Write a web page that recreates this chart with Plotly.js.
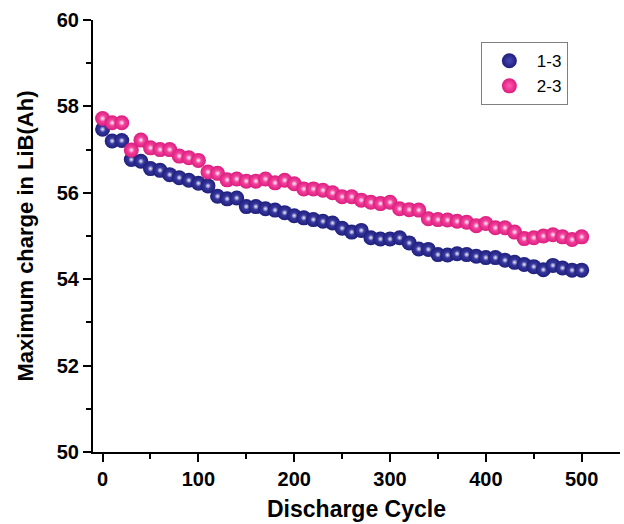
<!DOCTYPE html>
<html>
<head>
<meta charset="utf-8">
<script src="https://cdn.plot.ly/plotly-3.0.1.min.js"></script>
<style>html,body{margin:0;padding:0;background:#fff;}#chart{width:624px;height:524px;}</style>
</head>
<body>
<div id="chart"></div>
<script>
const cycles = [0,10,20,30,40,50,60,70,80,90,100,110,120,130,140,150,160,170,180,190,200,210,220,230,240,250,260,270,280,290,300,310,320,330,340,350,360,370,380,390,400,410,420,430,440,450,460,470,480,490,500];
const series13 = [57.47,57.20,57.21,56.77,56.73,56.56,56.52,56.42,56.35,56.29,56.22,56.16,55.92,55.86,55.88,55.68,55.68,55.63,55.60,55.54,55.47,55.42,55.38,55.34,55.30,55.18,55.09,55.13,54.96,54.93,54.93,54.96,54.84,54.70,54.69,54.57,54.56,54.59,54.57,54.53,54.50,54.50,54.44,54.39,54.34,54.29,54.22,54.32,54.26,54.21,54.21];
const series23 = [57.72,57.62,57.62,56.99,57.22,57.04,57.00,57.00,56.85,56.81,56.75,56.48,56.45,56.30,56.32,56.27,56.27,56.32,56.23,56.29,56.21,56.09,56.09,56.06,56.00,55.91,55.91,55.83,55.78,55.75,55.78,55.63,55.61,55.60,55.40,55.38,55.37,55.34,55.32,55.24,55.29,55.19,55.19,55.09,54.94,54.96,55.00,55.03,54.98,54.92,54.98];
const names = ['1-3','2-3'];
const xTicks = [0,100,200,300,400,500];
const yTicks = [50,52,54,56,58,60];

function sphere(y, name, edge, center) {
  return {
    x: cycles, y: y, name: name, type: 'scatter', mode: 'markers',
    marker: {size: 15, color: edge, line: {width: 0}, gradient: {type: 'radial', color: center}}
  };
}
function highlight(y) {
  return {
    x: cycles, y: y, type: 'scatter', mode: 'markers', showlegend: false, hoverinfo: 'skip',
    marker: {size: 6, color: 'rgba(255,255,255,0)', line: {width: 0}, gradient: {type: 'radial', color: 'rgba(255,255,255,0.9)'}}
  };
}
const data = [
  sphere(series13, names[0], '#1e1e7c', '#4848b4'),
  highlight(series13),
  sphere(series23, names[1], '#dc1c7e', '#ff5cb0'),
  highlight(series23)
];
const font = {family: 'Liberation Sans, Arial, sans-serif', color: '#000'};
const layout = {
  width: 624, height: 524,
  margin: {l: 93, r: 4, t: 20, b: 72},
  paper_bgcolor: '#fff', plot_bgcolor: '#fff',
  font: font,
  showlegend: true,
  legend: {
    x: 0.736, y: 0.9486, xanchor: 'left', yanchor: 'top',
    bordercolor: '#7f7f7f', borderwidth: 1, bgcolor: '#fff',
    font: {family: font.family, size: 17, color: '#000'},
    itemwidth: 45, tracegroupgap: 0
  },
  xaxis: {
    range: [-10, 540], showgrid: false, zeroline: false,
    showline: true, linecolor: '#000', linewidth: 2, mirror: false,
    tickmode: 'array', tickvals: xTicks, ticks: 'outside', ticklen: 8, tickwidth: 2, tickcolor: '#000',
    minor: {dtick: 50, ticks: 'outside', ticklen: 5, tickwidth: 2, tickcolor: '#000', showgrid: false},
    tickfont: {family: font.family, size: 20, color: '#000', weight: 'bold'},
    title: {text: 'Discharge Cycle', standoff: 12, font: {family: font.family, size: 23, color: '#000', weight: 'bold'}}
  },
  yaxis: {
    range: [50, 60], showgrid: false, zeroline: false,
    showline: true, linecolor: '#000', linewidth: 2, mirror: false,
    tickmode: 'array', tickvals: yTicks, ticks: 'outside', ticklen: 8, tickwidth: 2, tickcolor: '#000',
    minor: {dtick: 1, ticks: 'outside', ticklen: 5, tickwidth: 2, tickcolor: '#000', showgrid: false},
    tickfont: {family: font.family, size: 20, color: '#000', weight: 'bold'},
    title: {text: 'Maximum charge in LiB(Ah)', standoff: 17, font: {family: font.family, size: 22, color: '#000', weight: 'bold'}}
  }
};
Plotly.newPlot('chart', data, layout, {displayModeBar: false, staticPlot: true});
</script>
</body>
</html>
